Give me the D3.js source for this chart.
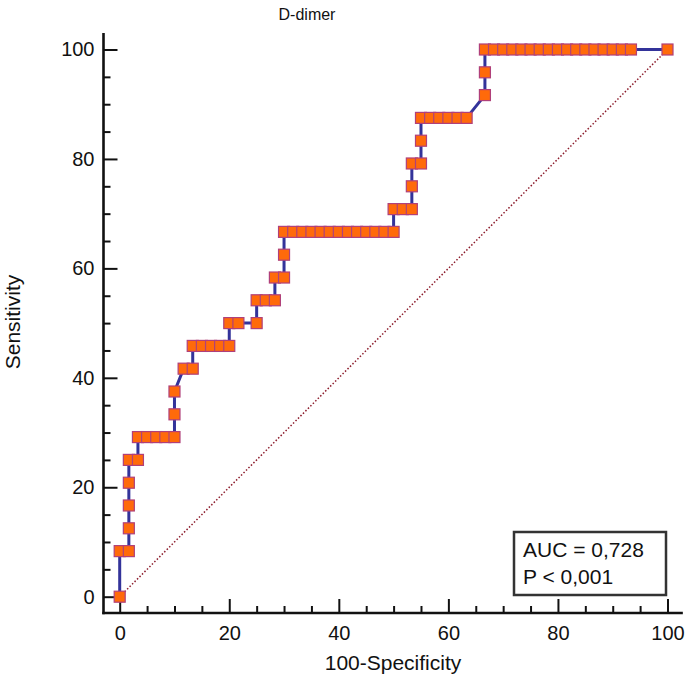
<!DOCTYPE html>
<html>
<head>
<meta charset="utf-8">
<script src="https://cdn.jsdelivr.net/npm/d3@7"></script>
<style>
  html, body { margin: 0; padding: 0; background: #fff; }
  text { font-family: "Liberation Sans", Arial, Helvetica, sans-serif; fill: #111; }
</style>
</head>
<body>
<svg id="chart" width="689" height="681"></svg>
<script>
// 100-Specificity (false positive rate, %) of each criterion point
const fpr = [
  0,
  0, 1.67,
  1.67, 1.67, 1.67,
  1.67, 3.33,
  3.33, 5, 6.67, 8.33, 10,
  10, 10,
  11.67, 13.33,
  13.33, 15, 16.67, 18.33, 20,
  20, 21.67, 25,
  25, 26.67, 28.33,
  28.33, 30,
  30,
  30, 31.67, 33.33, 35, 36.67, 38.33, 40, 41.67, 43.33, 45, 46.67, 48.33, 50,
  50, 51.67, 53.33,
  53.33,
  53.33, 55,
  55,
  55, 56.67, 58.33, 60, 61.67, 63.33,
  66.67,
  66.67,
  66.67, 68.33, 70, 71.67, 73.33, 75, 76.67, 78.33, 80, 81.67, 83.33, 85, 86.67, 88.33, 90, 91.67, 93.33,
  100
];
// Sensitivity (%) of each criterion point
const sensitivity = [
  0,
  8.33, 8.33,
  12.5, 16.67, 20.83,
  25, 25,
  29.17, 29.17, 29.17, 29.17, 29.17,
  33.33, 37.5,
  41.67, 41.67,
  45.83, 45.83, 45.83, 45.83, 45.83,
  50, 50, 50,
  54.17, 54.17, 54.17,
  58.33, 58.33,
  62.5,
  66.67, 66.67, 66.67, 66.67, 66.67, 66.67, 66.67, 66.67, 66.67, 66.67, 66.67, 66.67, 66.67,
  70.83, 70.83, 70.83,
  75,
  79.17, 79.17,
  83.33,
  87.5, 87.5, 87.5, 87.5, 87.5, 87.5,
  91.67,
  95.83,
  100, 100, 100, 100, 100, 100, 100, 100, 100, 100, 100, 100, 100, 100, 100, 100, 100,
  100
];
const majorTicks = [0, 20, 40, 60, 80, 100];
const minorTicks = [5, 10, 15, 25, 30, 35, 45, 50, 55, 65, 70, 75, 85, 90, 95];
const chartTitle = "D-dimer";
const xTitle = "100-Specificity";
const yTitle = "Sensitivity";
const legendLines = ["AUC = 0,728", "P < 0,001"];

const svg = d3.select("#chart");
const x = d3.scaleLinear().domain([0, 100]).range([119.7, 667.5]);
const y = d3.scaleLinear().domain([0, 100]).range([596.7, 49.5]);
const axisY0 = 613;   // x-axis line position
const axisX0 = 103.5; // y-axis line position

// Title
svg.append("text").attr("x", 307).attr("y", 20).attr("text-anchor", "middle")
  .style("font-size", "16px").text(chartTitle);

// Axes
const gx = svg.append("g").attr("transform", `translate(0,${axisY0})`);
gx.call(d3.axisBottom(x).tickValues(majorTicks).tickSize(-14).tickPadding(13).tickFormat(d3.format("d")));
gx.call(g => g.select(".domain").remove());
const gxm = svg.append("g").attr("transform", `translate(0,${axisY0})`);
gxm.call(d3.axisBottom(x).tickValues(minorTicks).tickSize(-7).tickFormat(""));
gxm.call(g => g.select(".domain").remove());

const gy = svg.append("g").attr("transform", `translate(${axisX0},0)`);
gy.call(d3.axisLeft(y).tickValues(majorTicks).tickSize(-14).tickPadding(9).tickFormat(d3.format("d")));
gy.call(g => g.select(".domain").remove());
const gym = svg.append("g").attr("transform", `translate(${axisX0},0)`);
gym.call(d3.axisLeft(y).tickValues(minorTicks).tickSize(-7).tickFormat(""));
gym.call(g => g.select(".domain").remove());

svg.selectAll(".tick line").attr("stroke", "#111").attr("stroke-width", 2);
svg.selectAll(".tick text").style("font-size", "20px").style("font-family", "'Liberation Sans', Arial, sans-serif").attr("fill", "#111");

// axis lines
svg.append("line").attr("x1", axisX0).attr("x2", axisX0).attr("y1", y(103)).attr("y2", axisY0 + 1.2)
  .attr("stroke", "#111").attr("stroke-width", 2.6);
svg.append("line").attr("x1", axisX0 - 1.2).attr("x2", x(102.8)).attr("y1", axisY0).attr("y2", axisY0)
  .attr("stroke", "#111").attr("stroke-width", 2.6);

// axis titles
svg.append("text").attr("x", 393).attr("y", 670).attr("text-anchor", "middle")
  .style("font-size", "21px").text(xTitle);
svg.append("text").attr("transform", "translate(20,322) rotate(-90)").attr("text-anchor", "middle")
  .style("font-size", "21px").text(yTitle);

// Reference diagonal
svg.append("line")
  .attr("x1", x(0)).attr("y1", y(0)).attr("x2", x(100)).attr("y2", y(100))
  .attr("stroke", "#8b1a2a").attr("stroke-width", 1.5).attr("stroke-dasharray", "1.5,2");

// ROC curve
const pts = fpr.map((d, i) => [d, sensitivity[i]]);
svg.append("path").datum(pts)
  .attr("d", d3.line().x(d => x(d[0])).y(d => y(d[1])))
  .attr("fill", "none").attr("stroke", "#33339a").attr("stroke-width", 3).attr("stroke-linejoin", "round");

// markers
const ms = 11;
svg.append("g").selectAll("rect").data(pts).join("rect")
  .attr("x", d => x(d[0]) - ms / 2).attr("y", d => y(d[1]) - ms / 2)
  .attr("width", ms).attr("height", ms)
  .attr("fill", "#ff6a0a").attr("stroke", "#b0407a").attr("stroke-width", 1.2);

// Legend box
const lg = svg.append("g");
lg.append("rect").attr("x", 514).attr("y", 532).attr("width", 152).attr("height", 63)
  .attr("fill", "#fff").attr("stroke", "#333").attr("stroke-width", 2.5);
lg.selectAll("text.leg").data(legendLines).join("text").attr("class", "leg")
  .attr("x", 523).attr("y", (d, i) => 557 + i * 27)
  .style("font-size", "21px").text(d => d);
</script>
</body>
</html>
